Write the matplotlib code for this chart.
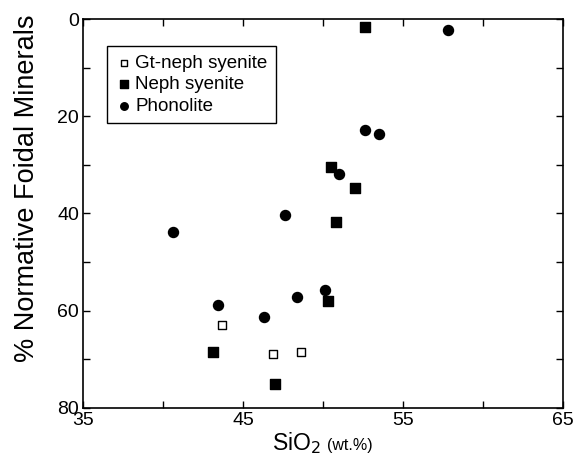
import matplotlib
matplotlib.use('Agg')
import matplotlib.pyplot as plt

plt.rcParams['font.family'] = ['Liberation Sans', 'DejaVu Sans']

# SiO2 (wt.%) and % normative foidal minerals
gt_sio2 = [43.7, 46.9, 48.6]
gt_foid = [63.0, 69.0, 68.5]

neph_sio2 = [52.6, 50.5, 52.0, 50.8, 50.3, 43.1, 47.0]
neph_foid = [1.6, 30.5, 34.8, 41.7, 58.0, 68.5, 75.1]

phon_sio2 = [57.8, 52.6, 53.5, 51.0, 47.6, 40.6, 43.4, 46.3, 48.4, 50.1]
phon_foid = [2.3, 22.8, 23.6, 31.9, 40.4, 43.9, 58.9, 61.4, 57.1, 55.8]

xticks = [35, 40, 45, 50, 55, 60, 65]
xticklabels = ['35', '', '45', '', '55', '', '65']
yticks = [0, 10, 20, 30, 40, 50, 60, 70, 80]
yticklabels = ['0', '', '20', '', '40', '', '60', '', '80']

fig = plt.figure(figsize=(5.77, 4.55), dpi=100)
ax = fig.add_axes([0.1444, 0.104, 0.8308, 0.8536])

ax.scatter(gt_sio2, gt_foid, marker='s', s=30, facecolors='white',
           edgecolors='black', linewidths=1.0, label='Gt-neph syenite', zorder=3)
ax.scatter(neph_sio2, neph_foid, marker='s', s=48, color='black',
           label='Neph syenite', zorder=3)
ax.scatter(phon_sio2, phon_foid, marker='o', s=52, color='black',
           label='Phonolite', zorder=3)

ax.set_xlim(35, 65)
ax.set_ylim(80, 0)
ax.set_xticks(xticks)
ax.set_xticklabels(xticklabels)
ax.set_yticks(yticks)
ax.set_yticklabels(yticklabels)
ax.tick_params(direction='in', length=5, width=1, labelsize=14,
               top=True, right=True, pad=3)
for sp in ax.spines.values():
    sp.set_linewidth(1.2)

fig.text(27 / 577, 1 - 188 / 455, '% Normative Foidal Minerals', fontsize=19.5,
         rotation=90, ha='center', va='center')

fig.text(321 / 577, 1 - 450 / 455, 'SiO$_2$', fontsize=16.5, ha='right', va='baseline')
fig.text(327 / 577, 1 - 450 / 455, '(wt.%)', fontsize=11.5, ha='left', va='baseline')

leg = ax.legend(loc='upper left', bbox_to_anchor=(0.05, 0.93), fontsize=13.5,
                frameon=True, fancybox=False, edgecolor='black', framealpha=1,
                handletextpad=0.15, handlelength=0.9, borderpad=0.45,
                labelspacing=0.22, scatterpoints=1, markerscale=0.75,
                borderaxespad=0)
leg.get_frame().set_linewidth(1.0)

fig.savefig('out.png', dpi=100)
